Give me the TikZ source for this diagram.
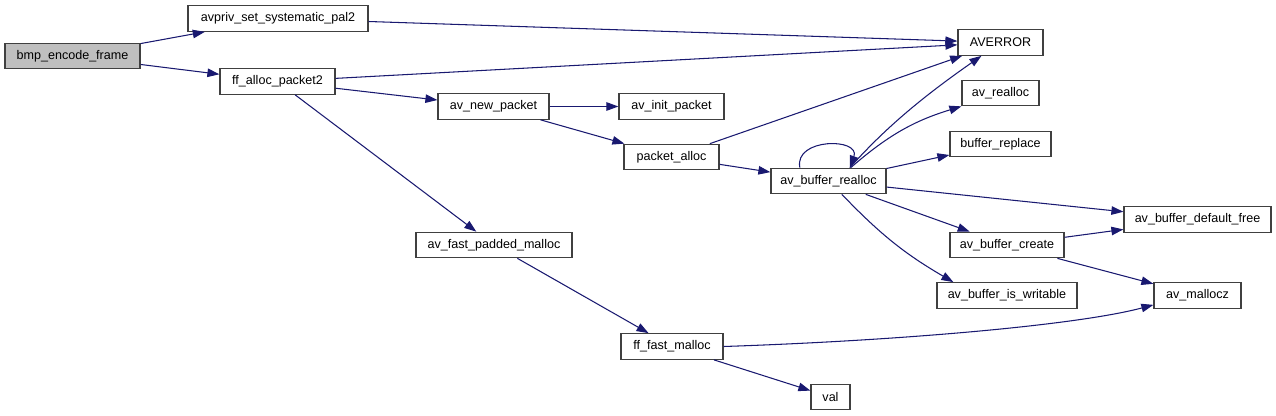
\documentclass[tikz,border=0pt]{standalone}
\usepackage{fontspec}
\setmainfont{Liberation Sans}
\usetikzlibrary{arrows.meta}
\definecolor{edgeblue}{HTML}{191970}
\definecolor{boxgray}{HTML}{404040}
\definecolor{rootgray}{HTML}{BFBFBF}

\begin{document}
\begin{tikzpicture}[x=0.02cm, y=-0.02cm, >={Triangle[length=0.24cm, width=0.17cm]},
        fn/.style={draw=boxgray, line width=0.7pt, fill=white, inner sep=0pt, minimum height=0.51cm, font=\fontsize{7.15}{8.5}\selectfont},
        call/.style={->, edgeblue, line width=0.6pt}]
        \useasboundingbox (0,0) rectangle (1276,416);

        % Root function
        \node[fn, fill=rootgray, minimum width=2.70cm] (bmp) at (72.5, 56) {bmp\_encode\_frame};

        % Called functions
        \foreach \name/\x/\y/\w/\txt in {
            avpriv/278/18.5/3.60/avpriv\_set\_systematic\_pal2,
            allocpkt/277.5/81.5/2.30/ff\_alloc\_packet2,
            newpkt/493.5/106.5/2.22/av\_new\_packet,
            initpkt/671.5/106.5/2.10/av\_init\_packet,
            pktalloc/671.5/157/1.90/packet\_alloc,
            bufrealloc/828.5/181/2.30/av\_buffer\_realloc,
            averror/1000.5/42.5/1.70/AVERROR,
            avrealloc/1000.5/93/1.54/av\_realloc,
            bufreplace/1000.5/144/2.02/buffer\_replace,
            deffree/1197.5/219.5/2.94/av\_buffer\_default\_free,
            bufcreate/1007/245/2.28/av\_buffer\_create,
            iswritable/1007/295.5/2.80/av\_buffer\_is\_writable,
            mallocz/1197.5/295.5/1.74/av\_mallocz,
            padmalloc/494/245/3.12/av\_fast\_padded\_malloc,
            fastmalloc/672/346.5/2.04/ff\_fast\_malloc,
            val/830.5/397/0.78/val} {
            \node[fn, minimum width=\w cm] (\name) at (\x, \y) {\txt};
        }

        % Straight calls
        \foreach \a/\b in {bmp/avpriv, bmp/allocpkt, avpriv/averror, allocpkt/averror,
            allocpkt/newpkt, allocpkt/padmalloc, newpkt/initpkt, newpkt/pktalloc,
            pktalloc/averror, pktalloc/bufrealloc, bufrealloc/bufreplace,
            bufrealloc/deffree, bufrealloc/bufcreate, bufcreate/deffree,
            bufcreate/mallocz, padmalloc/fastmalloc, fastmalloc/val} {
            \draw[call] (\a) -- (\b);
        }

        % Curved calls
        \draw[call] (bufrealloc.32) .. controls +(40,-45) and +(-50,35) .. (averror.215);
        \draw[call] (bufrealloc.31) to[bend left=12] (avrealloc.south west);
        \draw[call] (bufrealloc.155) .. controls +(-6,-30) and +(11,-30) .. (bufrealloc.32);
        \draw[call] (bufrealloc.-45) to[bend right=8] (iswritable.166);
        \draw[call] (fastmalloc.east) .. controls +(180,-6) and +(-75,20) .. (mallocz.192);
    \end{tikzpicture}
\end{document}
